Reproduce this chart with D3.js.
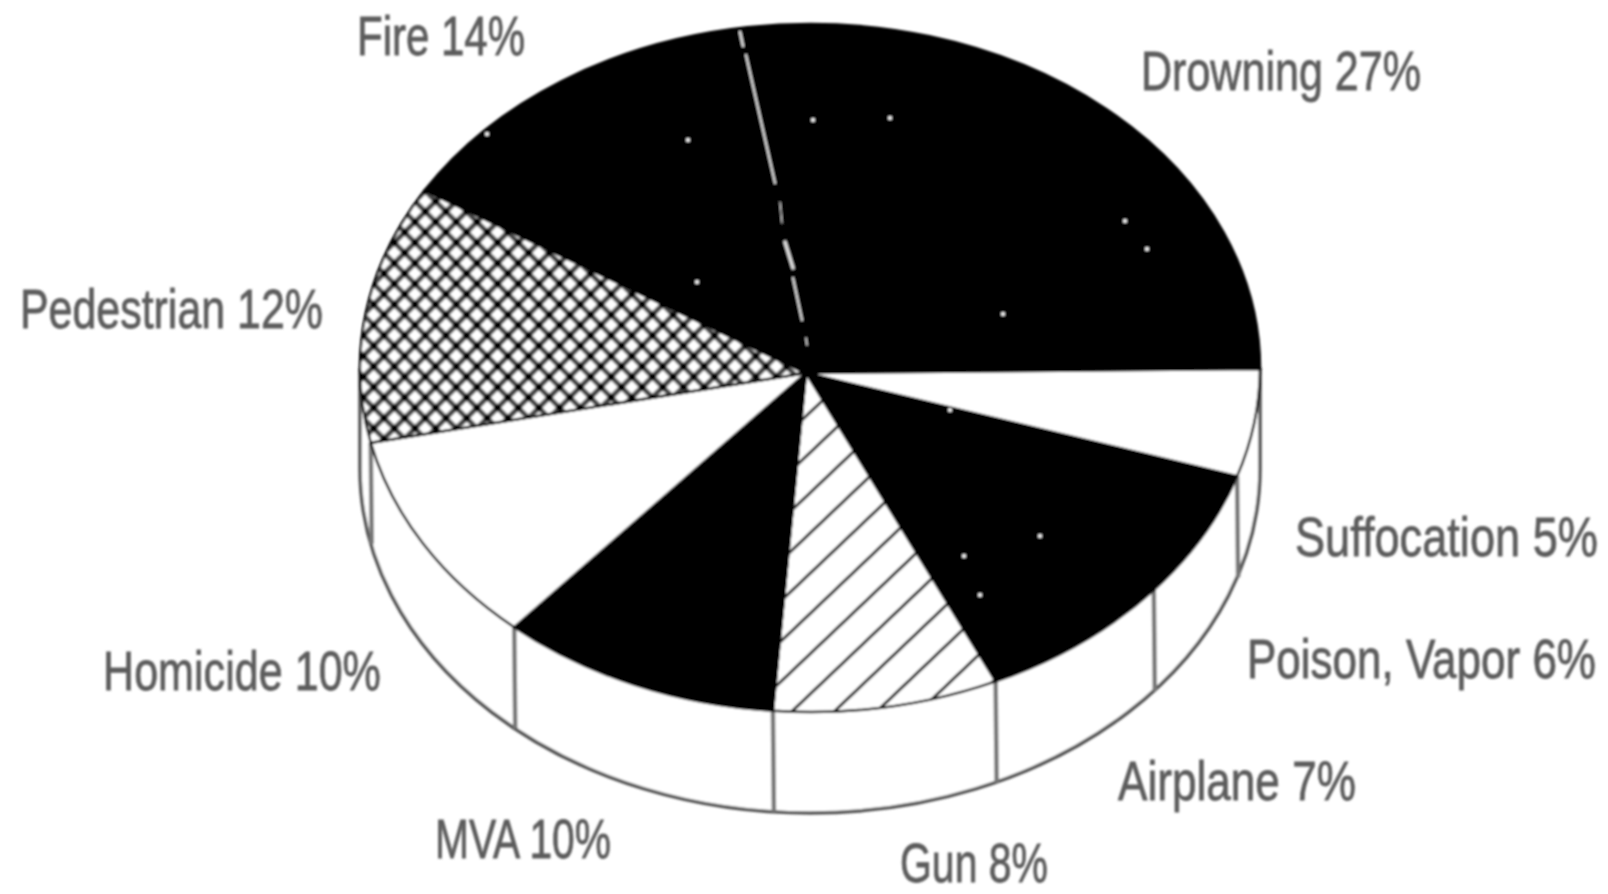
<!DOCTYPE html>
<html>
<head>
<meta charset="utf-8">
<script src="https://d3js.org/d3.v7.min.js"></script>
<style>
  html, body { margin: 0; padding: 0; background: #fff; }
  svg { display: block; }
</style>
</head>
<body>
<svg id="chart"></svg>
<script>
const causes = ['Drowning', 'Suffocation', 'Poison, Vapor', 'Airplane', 'Gun', 'MVA', 'Homicide', 'Pedestrian', 'Fire'];
const percents = [27, 5, 6, 7, 8, 10, 10, 12, 14];

const width = 1608;
const height = 894;
const cx = 810;
const cy = 368;
const rx = 450;
const ry = 344;
const depth = 101;
const startDeg = -8;
// the wedges meet a little off the middle of the ellipse
const apexX = 806;
const apexY = 373;

// label box per cause: left, right, baseline
const labelBoxes = {
    'Drowning': [1141, 1421, 90],
    'Suffocation': [1295, 1598, 556],
    'Poison, Vapor': [1247, 1596, 678],
    'Airplane': [1118, 1356, 800],
    'Gun': [900, 1048, 882],
    'MVA': [435, 611, 858],
    'Homicide': [103, 381, 690],
    'Pedestrian': [20, 323, 328],
    'Fire': [357, 525, 55]
};

const sliceFill = {
    'Drowning': '#000',
    'Suffocation': '#fff',
    'Poison, Vapor': '#000',
    'Airplane': '#000',
    'Gun': 'url(#hatch)',
    'MVA': '#000',
    'Homicide': '#fff',
    'Pedestrian': 'url(#cross)',
    'Fire': '#000'
};

// scan dust on the black slices
const specks = [[487, 134], [688, 140], [813, 120], [890, 118], [1125, 221], [1147, 249], [1003, 314], [697, 282], [1040, 536], [964, 556], [980, 595], [950, 410]];

// the white scratch between Fire and Drowning: x1, y1, x2, y2, thickness
const scratch = [
    [740, 32, 743, 46, 2.6],
    [746, 55, 775, 183, 2.2],
    [780, 202, 782, 223, 1.2],
    [785, 242, 793, 268, 3.4],
    [793, 278, 802, 320, 2.2],
    [806, 338, 807, 345, 1.6]
];

const x = d3.scaleLinear().domain([-1, 1]).range([cx - rx, cx + rx]);
const y = d3.scaleLinear().domain([-1, 1]).range([cy - ry, cy + ry]);

const svg = d3.select('#chart').attr('width', width).attr('height', height);
const defs = svg.append('defs');

defs.append('filter').attr('id', 'scan')
    .append('feGaussianBlur').attr('stdDeviation', 1.1);

const cross = defs.append('pattern').attr('id', 'cross')
    .attr('patternUnits', 'userSpaceOnUse')
    .attr('width', 14.6).attr('height', 14.6)
    .attr('patternTransform', 'translate(384,397.4) rotate(45)');
cross.append('rect').attr('width', 14.6).attr('height', 14.6).attr('fill', '#fff');
cross.append('path').attr('d', 'M0,0H14.6M0,0V14.6M0,14.6H14.6M14.6,0V14.6')
    .attr('stroke', '#444').attr('stroke-width', 5);
cross.selectAll('circle')
    .data([[0, 0], [14.6, 0], [0, 14.6], [14.6, 14.6]])
    .enter().append('circle')
    .attr('cx', d => d[0])
    .attr('cy', d => d[1])
    .attr('r', 3.2)
    .attr('fill', '#000');

const hatch = defs.append('pattern').attr('id', 'hatch')
    .attr('patternUnits', 'userSpaceOnUse')
    .attr('width', 29.2).attr('height', 29.2)
    .attr('patternTransform', 'translate(0,11.6) rotate(-43.5)');
hatch.append('rect').attr('width', 29.2).attr('height', 29.2).attr('fill', '#fff');
hatch.append('path').attr('d', 'M0,1.5H29.2').attr('stroke', '#222').attr('stroke-width', 3);

const pie = d3.pie().sort(null).value(d => d.value)
    .startAngle(startDeg * Math.PI / 180)
    .endAngle((startDeg + 360) * Math.PI / 180);

const slices = pie(causes.map((name, i) => ({name: name, value: percents[i]})));

const px = a => x(Math.sin(a));
const py = a => y(-Math.cos(a));

function slicePath(d) {
    const large = d.endAngle - d.startAngle > Math.PI ? 1 : 0;
    return `M${apexX},${apexY}L${px(d.startAngle)},${py(d.startAngle)}` +
        `A${rx},${ry} 0 ${large} 1 ${px(d.endAngle)},${py(d.endAngle)}Z`;
}

const chart = svg.append('g').attr('filter', 'url(#scan)');

// side wall of the disc
chart.append('path')
    .attr('d', `M${cx + rx},${cy}V${cy + depth}A${rx},${ry} 0 0 1 ${cx - rx},${cy + depth}V${cy}`)
    .attr('fill', '#fff')
    .attr('stroke', '#555')
    .attr('stroke-width', 3.5);

chart.selectAll('.wall')
    .data(slices.filter(d => Math.cos(d.endAngle) < -0.1))
    .enter().append('line')
    .attr('class', 'wall')
    .attr('x1', d => px(d.endAngle))
    .attr('x2', d => px(d.endAngle) + 1)
    .attr('y1', d => py(d.endAngle))
    .attr('y2', d => py(d.endAngle) + depth)
    .attr('stroke', '#777')
    .attr('stroke-width', 4.5);

chart.selectAll('.slice')
    .data(slices)
    .enter().append('path')
    .attr('class', 'slice')
    .attr('d', slicePath)
    .attr('fill', d => sliceFill[d.data.name])
    .attr('stroke', '#000')
    .attr('stroke-width', 2.5);

chart.selectAll('.scratch')
    .data(scratch)
    .enter().append('line')
    .attr('class', 'scratch')
    .attr('x1', d => d[0])
    .attr('y1', d => d[1])
    .attr('x2', d => d[2])
    .attr('y2', d => d[3])
    .attr('stroke', '#ddd')
    .attr('stroke-linecap', 'round')
    .attr('stroke-width', d => d[4]);

chart.selectAll('.speck')
    .data(specks)
    .enter().append('circle')
    .attr('class', 'speck')
    .attr('cx', d => d[0])
    .attr('cy', d => d[1])
    .attr('r', 2)
    .attr('fill', '#fff');

// squeeze each label to the width it has in the picture
chart.selectAll('.label')
    .data(slices)
    .enter().append('text')
    .attr('class', 'label')
    .attr('font-family', '"Liberation Sans Narrow", "Liberation Sans", Roboto, sans-serif')
    .attr('font-size', 56)
    .attr('fill', '#5c5c5c')
    .attr('stroke', '#5c5c5c')
    .attr('stroke-width', 0.8)
    .text(d => `${d.data.name} ${d.data.value}%`)
    .attr('transform', function(d) {
        const box = labelBoxes[d.data.name];
        const sx = (box[1] - box[0]) / this.getComputedTextLength();
        return `translate(${box[0]},${box[2]}) scale(${sx},1)`;
    });
</script>
</body>
</html>
